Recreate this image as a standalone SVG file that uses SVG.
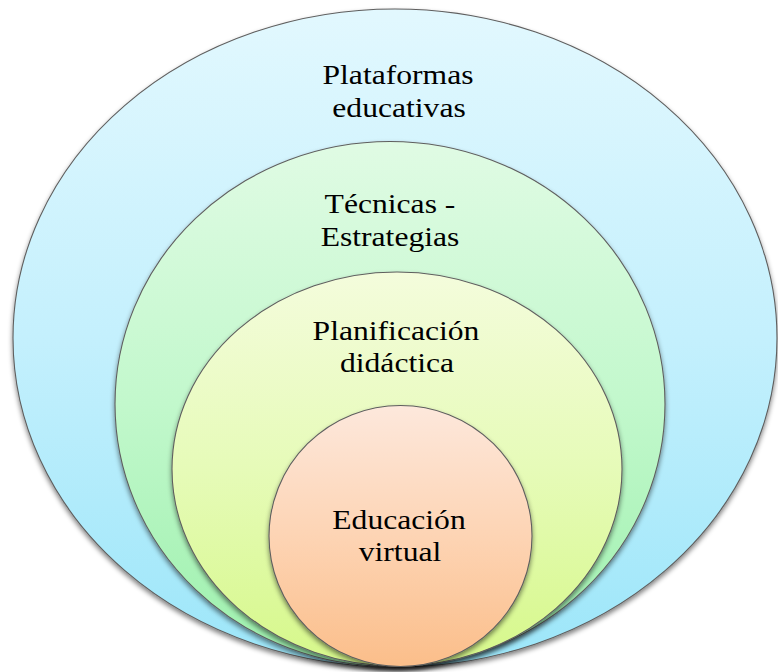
<svg xmlns="http://www.w3.org/2000/svg" width="778" height="672" viewBox="0 0 778 672">
  <defs>
    <linearGradient id="gBlue" x1="0" y1="0" x2="0" y2="1">
      <stop offset="0" stop-color="#e2f8fe"/>
      <stop offset="0.5" stop-color="#c4f0fd"/>
      <stop offset="1" stop-color="#9ce6f9"/>
    </linearGradient>
    <linearGradient id="gGreen" x1="0" y1="0" x2="0" y2="1">
      <stop offset="0" stop-color="#e0fbe4"/>
      <stop offset="0.5" stop-color="#c2f8cc"/>
      <stop offset="1" stop-color="#9cf0ac"/>
    </linearGradient>
    <linearGradient id="gYellow" x1="0" y1="0" x2="0" y2="1">
      <stop offset="0" stop-color="#f4fcdc"/>
      <stop offset="0.5" stop-color="#e6fbb8"/>
      <stop offset="1" stop-color="#d6f88a"/>
    </linearGradient>
    <linearGradient id="gOrange" x1="0" y1="0" x2="0" y2="1">
      <stop offset="0" stop-color="#fde8dc"/>
      <stop offset="0.5" stop-color="#fdd4b4"/>
      <stop offset="1" stop-color="#fbbe8a"/>
    </linearGradient>
    <filter id="shadow" x="-10%" y="-10%" width="120%" height="125%">
      <feGaussianBlur in="SourceAlpha" stdDeviation="2.5"/>
      <feOffset dy="3" result="b"/>
      <feComponentTransfer><feFuncA type="linear" slope="0.5"/></feComponentTransfer>
      <feMerge><feMergeNode/><feMergeNode in="SourceGraphic"/></feMerge>
    </filter>
  </defs>
  <style>
    .ring { stroke: #5f5f5f; stroke-width: 1.1; filter: url(#shadow); }
    .lbl { font-family: "Liberation Serif", "Times New Roman", serif; font-size: 28px; fill: #000; text-anchor: middle; }
  </style>
  <rect width="778" height="672" fill="#ffffff"/>
  <g id="plataformas">
    <ellipse class="ring" cx="395" cy="338" rx="382" ry="329" fill="url(#gBlue)"/>
    <text class="lbl" transform="translate(398,84) scale(1.13,1)">Plataformas</text>
    <text class="lbl" transform="translate(399,117) scale(1.13,1)">educativas</text>
  </g>
  <g id="tecnicas">
    <ellipse class="ring" cx="390" cy="404" rx="275" ry="262.5" fill="url(#gGreen)"/>
    <text class="lbl" transform="translate(390,213) scale(1.13,1)">Técnicas -</text>
    <text class="lbl" transform="translate(390,246) scale(1.13,1)">Estrategias</text>
  </g>
  <g id="planificacion">
    <ellipse class="ring" cx="397" cy="469" rx="225" ry="197" fill="url(#gYellow)"/>
    <text class="lbl" transform="translate(396,340) scale(1.13,1)">Planificación</text>
    <text class="lbl" transform="translate(397,372) scale(1.13,1)">didáctica</text>
  </g>
  <g id="educacion">
    <ellipse class="ring" cx="400.5" cy="536" rx="131.5" ry="130.5" fill="url(#gOrange)"/>
    <text class="lbl" transform="translate(399,529) scale(1.13,1)">Educación</text>
    <text class="lbl" transform="translate(400,561) scale(1.13,1)">virtual</text>
  </g>
  <g id="connectors"/>
</svg>
